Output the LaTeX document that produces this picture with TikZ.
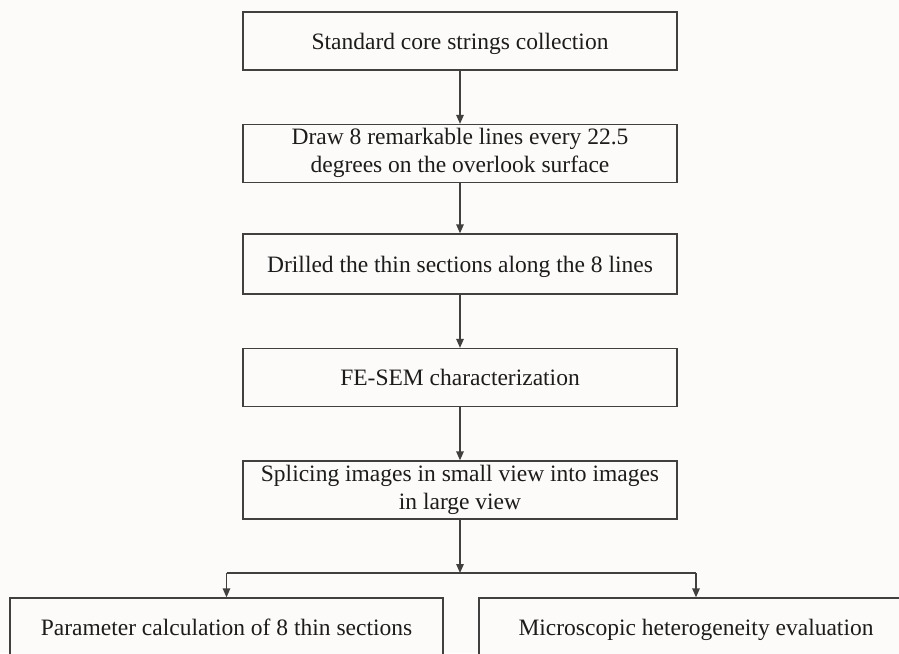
\documentclass[tikz,border=0pt]{standalone}
\usepackage{fontspec}
\setmainfont{Liberation Serif}
\usetikzlibrary{arrows.meta}
\definecolor{paper}{RGB}{252,251,249}
\definecolor{ink}{RGB}{28,28,28}
\definecolor{rule}{RGB}{64,64,64}
% invisible rule that fixes line height and depth inside the boxes
\newcommand\boxstrut{\rule[-6pt]{0pt}{28pt}}
\tikzset{
  stepbox/.style={draw=rule, line width=1.3pt, fill=paper, minimum width=434pt,
    minimum height=58pt, inner sep=0pt, align=center, text=ink,
    font=\fontsize{23.5}{28}\selectfont,
    execute at begin node=\boxstrut, execute at end node=\boxstrut},
  flow/.style={draw=rule, line width=1.3pt, -{Triangle[length=9pt,width=7.5pt]}},
  link/.style={draw=rule, line width=1.3pt}
}
\begin{document}
\begin{tikzpicture}[x=1pt,y=1pt]
  % page area, 899 x 653, y measured downward from the top edge
  \fill[paper] (0,0) rectangle (899,-653);
  \clip (0,0) rectangle (899,-653);
  \useasboundingbox (0,0) rectangle (899,-653);

  \node[stepbox] (s1) at (460,-41)    {Standard core strings collection};
  \node[stepbox] (s2) at (460,-153.5) {Draw 8 remarkable lines every 22.5\\degrees on the overlook surface};
  \node[stepbox, minimum height=60pt] (s3) at (460,-264) {Drilled the thin sections along the 8 lines};
  \node[stepbox] (s4) at (460,-377.5) {FE-SEM characterization};
  \node[stepbox] (s5) at (460,-490)   {Splicing images in small view into images\\in large view};

  \node[stepbox, minimum width=433pt] (p1) at (226.5,-627) {Parameter calculation of 8 thin sections};
  \node[stepbox] (p2) at (696,-627)   {Microscopic heterogeneity evaluation};

  \coordinate (split) at (460,-573);

  \draw[flow] (s1) -- (s2);
  \draw[flow] (s2) -- (s3);
  \draw[flow] (s3) -- (s4);
  \draw[flow] (s4) -- (s5);
  \draw[flow] (s5) -- (split);
  \draw[link] (p1.north |- split) -- (p2.north |- split);
  \draw[flow] (p1.north |- split) -- (p1.north);
  \draw[flow] (p2.north |- split) -- (p2.north);
\end{tikzpicture}
\end{document}
